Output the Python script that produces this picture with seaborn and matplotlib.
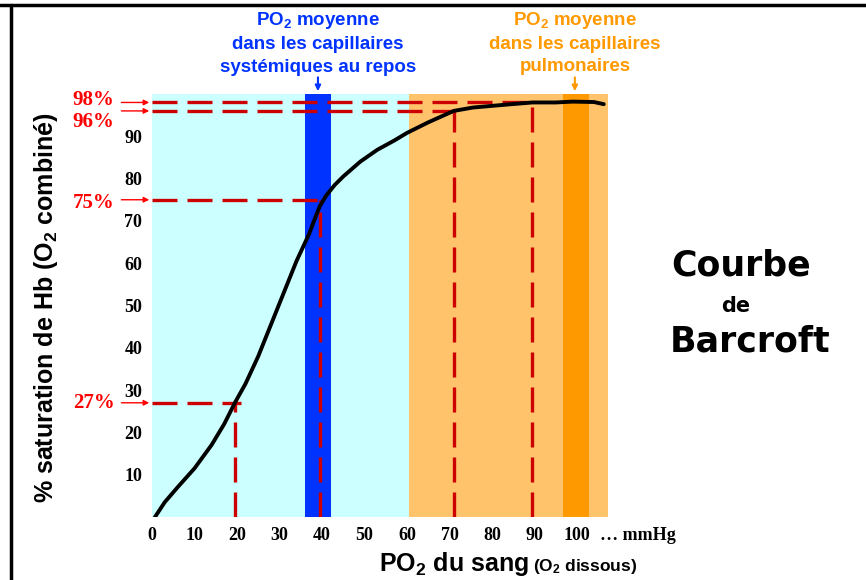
import matplotlib.pyplot as plt
import pandas as pd
import seaborn as sns

# courbe de dissociation
po2 = [0.7, 3, 6, 10, 14, 17, 19.5, 22, 25, 28, 31, 34, 37, 38.5, 39.5, 41, 43, 45, 49, 53,
       57, 60, 65, 71, 75.5, 83.5, 89.5, 95, 99, 104, 106.3]
sat = [0, 3.5, 7, 11.5, 17, 22, 27, 31.5, 38, 45.5, 53, 60.5, 67, 71, 73.5, 76, 78.5, 80.5,
       84, 86.8, 89, 90.8, 93.3, 96, 96.8, 97.5, 98, 98, 98.2, 98.1, 97.6]

# points de repère en pointillés rouges
ref_po2 = [19.5, 39.5, 71, 89.5]
ref_sat = [27, 75, 96, 98]
ref_hend = [21, 39.5, 71, 89.5]
ref_labels = ["27%", "75%", "96%", "98%"]
ref_text_dy = [0, -2, -8, 2]

x_ticks = [0, 10, 20, 30, 40, 50, 60, 70, 80, 90, 100]
y_ticks = [10, 20, 30, 40, 50, 60, 70, 80, 90]

zone_tissus = (0, 60.5)
zone_poumon = (60.5, 107.3)
zone_systemique = (36.0, 42.1)
zone_pulmonaire = (96.7, 102.8)
x_max = 107.3
y_max = 100

BLEU = "#0033ff"
ORANGE = "#ff9900"
ROUGE = "#cc0000"

sns.set_style("white")
plt.rcParams["font.family"] = ["Liberation Sans", "DejaVu Sans"]
plt.rcParams["text.color"] = "black"
plt.rcParams["xtick.labelcolor"] = "black"
plt.rcParams["ytick.labelcolor"] = "black"
plt.rcParams["mathtext.fontset"] = "custom"
plt.rcParams["mathtext.rm"] = "Liberation Sans:bold"
plt.rcParams["mathtext.it"] = "Liberation Sans:bold"
plt.rcParams["mathtext.bf"] = "Liberation Sans:bold"

W, H = 866, 580


def fx(px):
    return px / W


def fy(py):
    return 1 - py / H


fig = plt.figure(figsize=(W / 100, H / 100), dpi=100)
ax = fig.add_axes([fx(152), 63 / H, 456 / W, 423 / H])

# zones colorées
ax.axvspan(*zone_tissus, color="#ccffff", lw=0)
ax.axvspan(*zone_poumon, color="#ffc46b", lw=0)
ax.axvspan(*zone_systemique, color=BLEU, lw=0)
ax.axvspan(*zone_pulmonaire, color=ORANGE, lw=0)

# pointillés rouges
for xv, yv, xe in zip(ref_po2, ref_sat, ref_hend):
    ax.plot([0, xe], [yv, yv], color=ROUGE, lw=2.4, dashes=(7.5, 3), zorder=3)
    ax.plot([xv, xv], [0, yv], color=ROUGE, lw=2.4, dashes=(7.5, 3), zorder=3)

df = pd.DataFrame({"PO2": po2, "SaO2": sat})
sns.lineplot(data=df, x="PO2", y="SaO2", sort=False, color="black", lw=2.8, ax=ax,
             zorder=4, solid_capstyle="round", solid_joinstyle="round")

ax.set_xlim(0, x_max)
ax.set_ylim(0, y_max)
for s in ax.spines.values():
    s.set_visible(False)
ax.set_xlabel("")
ax.set_ylabel("")
ax.set_xticks(x_ticks)
ax.set_yticks(y_ticks)
ax.set_xticklabels([str(v) for v in x_ticks], fontfamily="Liberation Serif",
                   fontweight="bold", fontsize=13)
ax.set_yticklabels([str(v) for v in y_ticks], fontfamily="Liberation Serif",
                   fontweight="bold", fontsize=13)
ax.tick_params(direction="in", color="white", length=5, width=2, pad=7)

fig.text(fx(600), fy(535), "\u2026 mmHg", ha="left", va="center",
         fontfamily="Liberation Serif", fontweight="bold", fontsize=13)

# étiquettes rouges à gauche
for yv, lab, dy in zip(ref_sat, ref_labels, ref_text_dy):
    ax.annotate("", xy=(0, yv), xytext=(-24, 0), textcoords="offset points",
                arrowprops=dict(arrowstyle="-|>", color="red", lw=1, mutation_scale=8),
                annotation_clip=False)
    ax.annotate(lab, xy=(0, yv), xytext=(-27, dy), textcoords="offset points",
                ha="right", va="center", color="red", fontsize=15,
                fontfamily="Liberation Serif", fontweight="bold", annotation_clip=False)

# titres des axes
fig.text(fx(46), fy(308), "% saturation de Hb (O$_2$ combiné)", rotation=90,
         ha="center", va="center", fontsize=18, fontweight="bold")
fig.text(fx(529), fy(571), "PO$_2$ du sang", ha="right", va="baseline",
         fontsize=18, fontweight="bold")
fig.text(fx(533), fy(571), "(O$_2$ dissous)", ha="left", va="baseline",
         fontsize=12.5, fontweight="bold")

# annotations du haut
for txt, yb in zip(["PO$_2$ moyenne", "dans les capillaires", "systémiques au repos"],
                   [25, 49, 72]):
    fig.text(fx(318), fy(yb), txt, ha="center", va="baseline", color=BLEU,
             fontsize=13.5, fontweight="bold")
for txt, yb in zip(["PO$_2$ moyenne", "dans les capillaires", "pulmonaires"],
                   [25, 49, 71]):
    fig.text(fx(575), fy(yb), txt, ha="center", va="baseline", color=ORANGE,
             fontsize=13.5, fontweight="bold")
ax.annotate("", xy=(sum(zone_systemique) / 2, y_max), xytext=(0, 14),
            textcoords="offset points",
            arrowprops=dict(arrowstyle="-|>", color=BLEU, lw=1.5, mutation_scale=8),
            annotation_clip=False)
ax.annotate("", xy=(99.5, y_max), xytext=(0, 14), textcoords="offset points",
            arrowprops=dict(arrowstyle="-|>", color=ORANGE, lw=1.5, mutation_scale=8),
            annotation_clip=False)

# titre à droite
fig.text(fx(741), fy(265), "Courbe", ha="center", va="center", fontsize=25,
         fontweight="bold", family="DejaVu Sans", color="black")
fig.text(fx(736), fy(306), "de", ha="center", va="center", fontsize=15,
         fontweight="bold", family="DejaVu Sans", color="black")
fig.text(fx(750), fy(342), "Barcroft", ha="center", va="center", fontsize=25,
         fontweight="bold", family="DejaVu Sans", color="black")

# cadre
fig.add_artist(plt.Line2D([0, 1], [fy(4.5), fy(4.5)], color="black", lw=2.5))
fig.add_artist(plt.Line2D([fx(11), fx(11)], [0, fy(4.5)], color="black", lw=2.5))

fig.savefig("out.png", dpi=100)
